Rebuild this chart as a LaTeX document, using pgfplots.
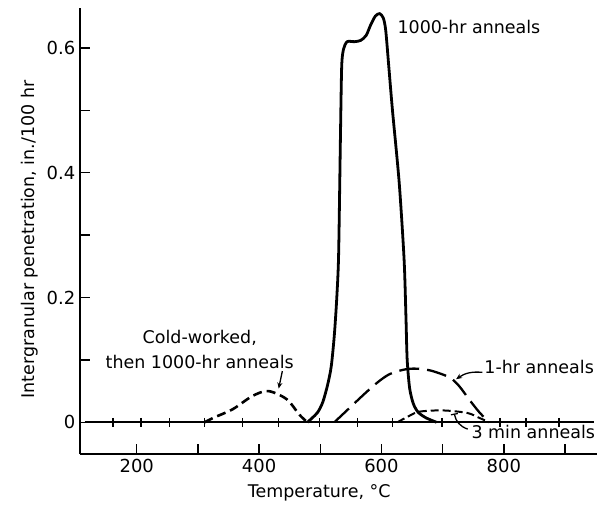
\documentclass[border=0pt]{standalone}
\usepackage{pgfplots}
\pgfplotsset{compat=1.18}
\usepackage{fontspec}
\setmainfont{DejaVu Sans}
\usetikzlibrary{arrows.meta}

\begin{document}
\begin{tikzpicture}
\begin{axis}[
  scale only axis,
  width=518pt, height=447pt,
  xmin=107, xmax=952, ymin=-0.051, ymax=0.664,
  axis x line*=bottom, axis y line*=left,
  axis line style={line width=2.4pt, -},
  xtick={200,400,600,800}, minor xtick={300,500,700,900},
  ytick={0,0.2,0.4,0.6}, minor ytick={0.1,0.3,0.5},
  yticklabels={0,0.2,0.4,0.6},
  tick align=inside,
  major tick length=10pt, minor tick length=10pt,
  tick style={line width=1.4pt, black},
  ticklabel style={font=\fontsize{18}{20}\selectfont},
  xticklabel style={yshift=-2pt},
  yticklabel style={xshift=-1pt},
  /pgf/number format/assume math mode=true,
  xlabel={Temperature, °C},
  ylabel={Intergranular penetration, in./100 hr},
  label style={font=\fontsize{17.5}{20}\selectfont},
  xlabel style={at={(axis description cs:0.463,-0.087)}, anchor=center},
  ylabel style={at={(axis description cs:-0.0965,0.481)}, anchor=center},
  clip=false,
]
% zero line with markers
\addplot[black, line width=1.6pt] coordinates {(115,0) (947,0)};
\addplot[black, only marks, mark=|, mark size=4.5pt, mark options={line width=1.4pt}]
  coordinates {(161,0) (207,0) (254,0) (311,0) (373,0) (432,0) (499,0) (561,0) (618,0) (699,0) (794,0) (836,0) (890,0)};
% 1000-hr anneals
\addplot[black, line width=2.8pt, smooth, tension=0.45] coordinates {
(479,0) (495,0.015) (504,0.032) (512,0.060) (518,0.090) (523,0.140) (527,0.200) (530,0.270) (533,0.460) (535,0.570) (538,0.598) (544,0.610) (556,0.610) (566,0.612) (575,0.620) (582,0.636) (590,0.651) (597,0.655) (603,0.648) (607,0.628) (612,0.570) (618,0.500) (629,0.384) (637,0.261) (640,0.170) (642,0.101) (646,0.055) (652,0.030) (660,0.016) (673,0.007) (690,0)};
% cold-worked
\addplot[black, line width=2.6pt, dash pattern=on 9pt off 5pt, smooth] coordinates {
(311,0) (325,0.007) (357,0.021) (389,0.042) (415,0.050) (445,0.037) (466,0.012) (479,0)};
% 1-hr anneals
\addplot[black, line width=2.3pt, dash pattern=on 20pt off 8pt, smooth] coordinates {
(523,0) (550,0.025) (575,0.048) (595,0.065) (613,0.077) (635,0.084) (654,0.086) (680,0.083) (711,0.072) (727,0.058) (743,0.037) (760,0.016) (776,0)};
% 3 min anneals
\addplot[black, line width=2pt, dash pattern=on 8pt off 4pt, smooth] coordinates {
(626,0) (645,0.010) (662,0.017) (700,0.019) (740,0.015) (760,0.007) (776,0)};
% annotations
\node[anchor=west, inner sep=0pt, font=\fontsize{17.5}{20}\selectfont] at (axis cs:626,0.634) {1000-hr anneals};
\node[align=center, inner sep=0pt, font=\fontsize{17.5}{25}\selectfont] at (axis cs:303,0.117) {Cold-worked,\\then 1000-hr anneals};
\draw[line width=1.3pt, -{Stealth[length=6pt,width=5pt]}] (axis cs:438,0.082) -- (axis cs:432,0.054);
\node[anchor=west, inner sep=0pt, font=\fontsize{17.5}{20}\selectfont] at (axis cs:768,0.088) {1-hr anneals};
\draw[line width=1.3pt, -{Stealth[length=6pt,width=5pt]}] (axis cs:765,0.080) to[bend right=20] (axis cs:722,0.069);
\node[anchor=west, inner sep=0pt, font=\fontsize{17.5}{20}\selectfont] at (axis cs:747,-0.016) {3 min anneals};
\draw[line width=1.3pt, -{Bar[width=7pt]}] (axis cs:741,-0.011) to[bend left=30] (axis cs:719,0.014);
% bounding box
\path (rel axis cs:0,0) ++(-80pt,-53pt) coordinate (bbA);
\path (rel axis cs:1,1) ++(0pt,8pt) coordinate (bbB);
\end{axis}
\useasboundingbox (bbA) rectangle (bbB);
\end{tikzpicture}
\end{document}
